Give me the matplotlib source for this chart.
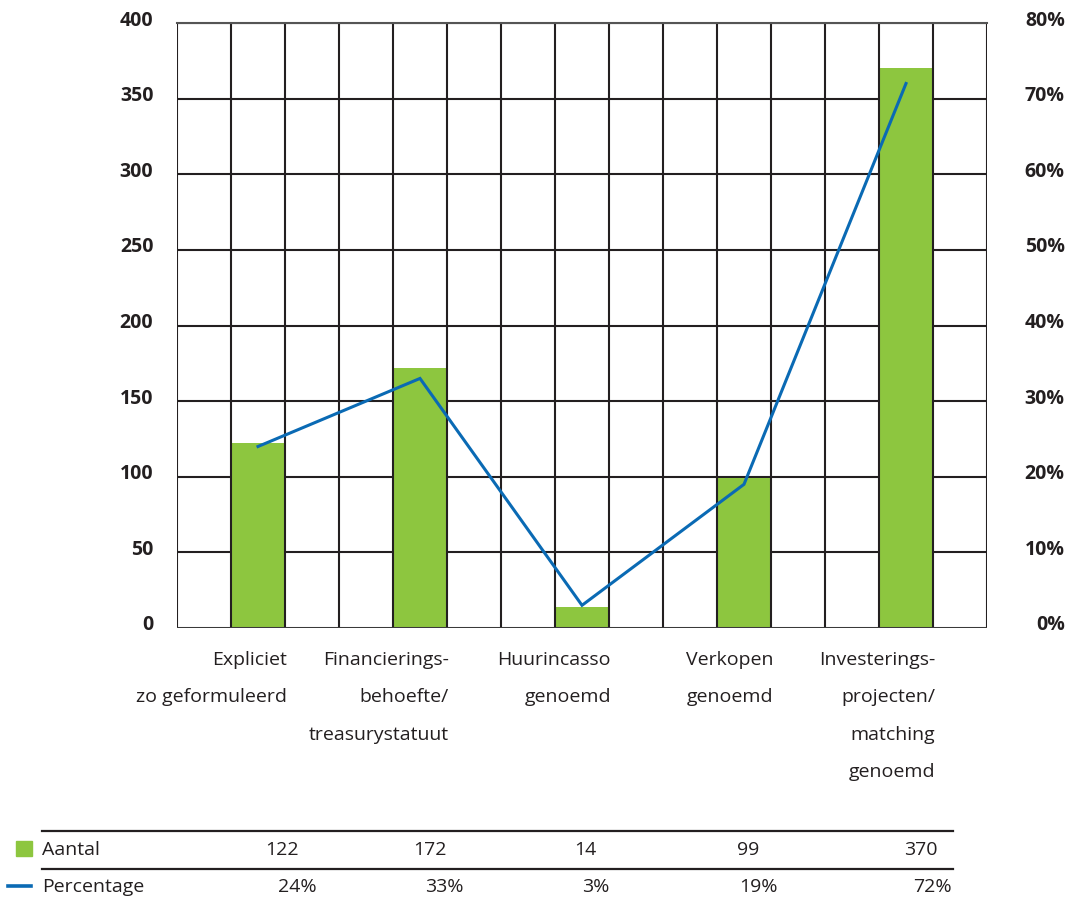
import matplotlib.pyplot as plt
from matplotlib import transforms
from matplotlib.lines import Line2D
from matplotlib.patches import Rectangle

# category labels, one list of lines per group
categories = [
    ['Expliciet', 'zo geformuleerd'],
    ['Financierings-', 'behoefte/', 'treasurystatuut'],
    ['Huurincasso', 'genoemd'],
    ['Verkopen', 'genoemd'],
    ['Investerings-', 'projecten/', 'matching', 'genoemd'],
]
aantal = [122, 172, 14, 99, 370]
percentage = [24, 33, 3, 19, 72]
left_ticks = [0, 50, 100, 150, 200, 250, 300, 350, 400]
right_ticks = [0, 10, 20, 30, 40, 50, 60, 70, 80]

GREEN = '#8dc63f'
BLUE = '#0a6ab4'
INK = '#231f20'

W, H = 1069, 901
plt.rcParams['font.family'] = ['Open Sans', 'DejaVu Sans']

fig = plt.figure(figsize=(W / 100, H / 100), dpi=100)
ax = fig.add_axes([177 / W, 1 - 628 / H, 810 / W, 605 / H])
x = list(range(len(aantal)))

# grid: three cells per category
for t in left_ticks[1:]:
    ax.axhline(t, color=INK, lw=1.5, zorder=0)
for k in range(3 * len(x) + 1):
    ax.axvline(-0.5 + k / 3, color=INK, lw=1.5, zorder=2)
ax.axhline(0, color='#3a3a3a', lw=2.2, zorder=3)

ax.bar(x, aantal, width=1 / 3, color=GREEN, zorder=1)
ax.set_xlim(-0.5, len(x) - 0.5)
ax.set_ylim(0, 400)
for s in ax.spines.values():
    s.set_visible(False)
ax.spines['top'].set_visible(True)
ax.spines['top'].set_color('#555555')
ax.spines['top'].set_linewidth(1.5)

ax2 = ax.twinx()
ax2.plot(x, percentage, color=BLUE, lw=2.2, solid_joinstyle='miter')
ax2.set_ylim(0, 80)
for s in ax2.spines.values():
    s.set_visible(False)

up = transforms.ScaledTranslation(0, 0.05, fig.dpi_scale_trans)
ax.set_xticks([])
ax.set_yticks(left_ticks)
ax.set_yticklabels([str(t) for t in left_ticks], fontsize=14, fontweight='bold', color=INK)
ax.tick_params(axis='y', length=0, pad=17)
for lab in ax.get_yticklabels():
    lab.set_transform(lab.get_transform() + up)

ax2.set_yticks(right_ticks)
ax2.set_yticklabels([f'{t}%' for t in right_ticks], fontsize=14, fontweight='bold', color=INK)
ax2.tick_params(axis='y', length=0, pad=56)
for lab in ax2.get_yticklabels():
    lab.set_horizontalalignment('right')
    lab.set_transform(lab.get_transform() + up)

# category labels, right-aligned on the bar edge
shift = transforms.ScaledTranslation(0.02, 0, fig.dpi_scale_trans)
trans = transforms.blended_transform_factory(ax.transData + shift, fig.transFigure)
for i, lines in enumerate(categories):
    for j, line in enumerate(lines):
        ax.text(i + 1 / 6, 1 - (660 + 37.4 * j) / H, line, transform=trans,
                ha='right', va='center', fontsize=14, color=INK)

# data table below the chart
col_aantal = [282, 430, 585, 748, 921]
col_pct = [297, 444, 596, 758, 932]
for yl in (831, 869):
    fig.add_artist(Line2D([42 / W, 953 / W], [1 - yl / H] * 2, color=INK, lw=1.6))
fig.add_artist(Rectangle((16 / W, 1 - 856 / H), 16 / W, 15 / H, color=GREEN))
fig.add_artist(Line2D([8 / W, 31 / W], [1 - 886 / H] * 2, color=BLUE, lw=2.6))
fig.text(42 / W, 1 - 850 / H, 'Aantal', ha='left', va='center', fontsize=14, color=INK)
fig.text(42 / W, 1 - 887 / H, 'Percentage', ha='left', va='center', fontsize=14, color=INK)
for cx, v in zip(col_aantal, aantal):
    fig.text(cx / W, 1 - 850 / H, str(v), ha='center', va='center', fontsize=14, color=INK)
for cx, p in zip(col_pct, percentage):
    fig.text(cx / W, 1 - 887 / H, f'{p}%', ha='center', va='center', fontsize=14, color=INK)

fig.savefig('out.png', dpi=100, facecolor='white')
